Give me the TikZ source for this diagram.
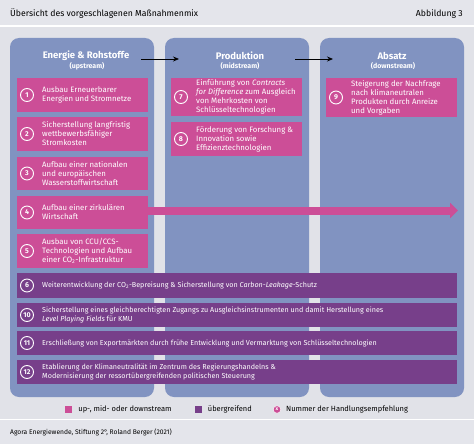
\documentclass[tikz,border=0pt]{standalone}
\usepackage{fontspec}
\setmainfont{Fira Sans}
\usepackage{xcolor}
\usetikzlibrary{arrows.meta,positioning}
\definecolor{hdrGrey}{HTML}{E4E5EB}
\definecolor{bgGrey}{HTML}{E1E2E8}
\definecolor{colBlue}{HTML}{8193C1}
\definecolor{magPink}{HTML}{CC4E97}
\definecolor{darkPurple}{HTML}{773F8A}
\tikzset{
  column/.style={fill=colBlue, rounded corners=9pt, inner sep=0pt, outer sep=0pt},
  colhead/.style={text=white, font=\fontsize{9.5}{10}\selectfont\bfseries, inner sep=0pt},
  colsub/.style={text=white, font=\fontsize{7}{8}\selectfont\bfseries, inner sep=0pt},
  measurebox/.style={inner sep=0pt, outer sep=0pt},
  numcircle/.style={circle, draw=white, line width=0.9pt, minimum size=13pt, inner sep=0pt,
    text=white, font=\fontsize{7}{7}\selectfont\bfseries},
  measuretext/.style={text=white, align=left, inner sep=0pt},
  legendsq/.style={minimum size=7pt, inner sep=0pt},
  legendtext/.style={font=\fontsize{7.5}{8}\selectfont, inner sep=0pt},
}
% name, x, y, width, height, colour, number, text
\newcommand{\massnahme}[8]{%
  \node[measurebox, fill=#6, minimum width=#4pt, minimum height=#5pt, anchor=north west]
    (#1) at (#2,#3) {};
  \node[numcircle] (#1n) at ([xshift=10pt]#1.west) {#7};
  \node[measuretext, anchor=west] (#1t) at ([xshift=25pt]#1.west) {#8};
}
\begin{document}
\begin{tikzpicture}[x=1pt, y=-1pt]
  \useasboundingbox (0,0) rectangle (474,444);
  % bands
  \fill[hdrGrey] (0,0) rectangle (474,25);
  \fill[bgGrey] (0,27) rectangle (474,418.5);
  \fill[hdrGrey] (0,420) rectangle (474,444);
  \node[anchor=west, font=\fontsize{8.7}{9}\selectfont, inner sep=0pt] (title) at (10,14)
    {Übersicht des vorgeschlagenen Maßnahmenmix};
  \node[anchor=east, font=\fontsize{8.7}{9}\selectfont, inner sep=0pt] (figno) at (463,14)
    {Abbildung 3};

  % columns
  \node[column, minimum width=144pt, minimum height=359pt, anchor=north west] (colUp) at (10,38) {};
  \node[column, minimum width=144pt, minimum height=359pt, anchor=north west] (colMid) at (165,38) {};
  \node[column, minimum width=144pt, minimum height=359pt, anchor=north west] (colDown) at (320,38) {};
  \node[colhead] (hUp) at (86,56) {Energie \& Rohstoffe};
  \node[colsub] (sUp) at (87,66.5) {(upstream)};
  \node[colhead] (hMid) at (240,56) {Produktion};
  \node[colsub] (sMid) at (240,66.5) {(midstream)};
  \node[colhead] (hDown) at (392,56) {Absatz};
  \node[colsub] (sDown) at (393,66.5) {(downstream)};
  \coordinate (flowA) at (141,59);
  \coordinate (flowB) at (179,59);
  \coordinate (flowC) at (295,59);
  \coordinate (flowD) at (333,59);
  \draw[line width=0.8pt, -{Stealth[length=6pt,width=5pt]}] (flowA) -- (flowB);
  \draw[line width=0.8pt, -{Stealth[length=6pt,width=5pt]}] (flowC) -- (flowD);

  % upstream, midstream, downstream
  \begin{scope}[font=\fontsize{7.8}{9}\selectfont]
    \massnahme{m1}{17}{78}{131}{34}{magPink}{1}{Ausbau Erneuerbarer\\Energien und Stromnetze}
    \massnahme{m2}{17}{117}{131}{34}{magPink}{2}{Sicherstellung langfristig\\wettbewerbsfähiger\\Stromkosten}
    \massnahme{m3}{17}{157}{131}{33}{magPink}{3}{Aufbau einer nationalen\\und europäischen\\Wasserstoffwirtschaft}
    \coordinate (flowE) at (458,210.5);
    \draw[magPink, line width=8pt, -{Triangle[length=8pt,width=15pt]}] (148,210.5) -- (flowE);
    \massnahme{m4}{17}{196}{131}{33}{magPink}{4}{Aufbau einer zirkulären\\Wirtschaft}
    \massnahme{m5}{17}{234}{131}{34}{magPink}{5}{Ausbau von CCU/CCS-\\Technologien und Aufbau\\einer CO\textsubscript{2}-Infrastruktur}
    \massnahme{m7}{171}{78}{131}{38}{magPink}{7}{Einführung von \textit{Contracts}\\\textit{for Difference} zum Ausgleich\\von Mehrkosten von\\Schlüsseltechnologien}
    \massnahme{m8}{171}{122}{131}{34}{magPink}{8}{Förderung von Forschung \&\\Innovation sowie\\Effizienztechnologien}
    \massnahme{m9}{326}{78}{131}{39}{magPink}{9}{Steigerung der Nachfrage\\nach klimaneutralen\\Produkten durch Anreize\\und Vorgaben}
  \end{scope}

  % overarching
  \begin{scope}[font=\fontsize{7.2}{8.3}\selectfont]
    \massnahme{m6}{17}{273}{440}{25}{darkPurple}{6}{Weiterentwicklung der CO\textsubscript{2}-Bepreisung \& Sicherstellung von \textit{Carbon-Leakage}-Schutz}
    \massnahme{m10}{17}{303}{440}{24}{darkPurple}{10}{Sicherstellung eines gleichberechtigten Zugangs zu Ausgleichsinstrumenten und damit Herstellung eines\\\textit{Level Playing Fields} für KMU}
    \massnahme{m11}{17}{331}{440}{24}{darkPurple}{11}{Erschließung von Exportmärkten durch frühe Entwicklung und Vermarktung von Schlüsseltechnologien}
    \massnahme{m12}{17}{360}{440}{24}{darkPurple}{12}{Etablierung der Klimaneutralität im Zentrum des Regierungshandelns \&\\Modernisierung der ressortübergreifenden politischen Steuerung}
  \end{scope}

  % legend
  \node[legendsq, fill=magPink] (lgPink) at (68.5,409.5) {};
  \node[legendtext, right=6pt of lgPink] (lgPinkT) {up-, mid- oder downstream};
  \node[legendsq, fill=darkPurple] (lgPurple) at (198,409.5) {};
  \node[legendtext, right=6pt of lgPurple] (lgPurpleT) {übergreifend};
  \node[circle, fill=magPink, draw=white, line width=0.4pt, minimum size=7.5pt, inner sep=0pt,
    text=white, font=\fontsize{5}{5}\selectfont\bfseries] (lgNum) at (277,409.5) {x};
  \node[legendtext, right=5pt of lgNum] (lgNumT) {Nummer der Handlungsempfehlung};

  \node[anchor=west, font=\fontsize{6.7}{7}\selectfont, inner sep=0pt] (source) at (10,432)
    {Agora Energiewende, Stiftung 2°, Roland Berger (2021)};
\end{tikzpicture}
\end{document}
